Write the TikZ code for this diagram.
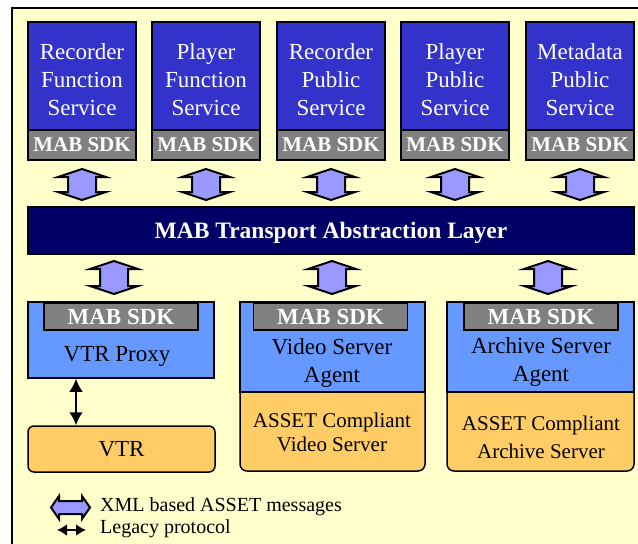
\documentclass[tikz,border=0pt]{standalone}
\usepackage{fontspec}
\setmainfont{Liberation Serif}
\usetikzlibrary{arrows.meta}
\definecolor{bgyellow}{HTML}{FFFFCC}
\definecolor{svcblue}{HTML}{3333CC}
\definecolor{sdkgray}{HTML}{808080}
\definecolor{navy}{HTML}{000066}
\definecolor{agentblue}{HTML}{6699FF}
\definecolor{devorange}{HTML}{FFCC66}
\definecolor{lav}{HTML}{9999FF}
\newcommand\fatv[3]{% x, top, bottom
  \draw[fatarrow] (#1,#2) -- (#1+24,#2+8) -- (#1+14,#2+8) -- (#1+14,#3-8) -- (#1+24,#3-8) -- (#1,#3) -- (#1-24,#3-8) -- (#1-14,#3-8) -- (#1-14,#2+8) -- (#1-24,#2+8) -- cycle;}
\tikzset{
  box/.style={draw=black, line width=1.5pt, inner sep=0pt, align=center},
  svc/.style={box, fill=svcblue, text=white, minimum width=108pt, minimum height=108pt, font=\fontsize{23}{28}\selectfont},
  sdk/.style={box, fill=sdkgray, text=white, minimum width=108pt, minimum height=30pt, font=\fontsize{21}{24}\selectfont\bfseries},
  tab/.style={box, fill=sdkgray, text=white, minimum width=154pt, minimum height=27pt, font=\fontsize{23}{26}\selectfont\bfseries},
  agent/.style={box, fill=agentblue, text=black, minimum width=186pt, font=\fontsize{23}{28}\selectfont},
  txt/.style={inner sep=0pt, align=center},
  fatarrow/.style={draw=black, line width=2pt, fill=lav, line join=miter},
  legacy/.style={line width=2.5pt, {Latex[length=13pt,width=14pt]}-{Latex[length=13pt,width=14pt]}},
}
\begin{document}
\begin{tikzpicture}[x=1pt,y=-1pt]
\useasboundingbox (0,0) rectangle (638,544);
\clip (0,0) rectangle (638,544);
\fill[white] (0,0) rectangle (638,544);
\draw[line width=2pt, fill=bgyellow] (12,8) rectangle (660,570);

% top services
\foreach \x/\name/\t in {82/s1/{Recorder\\Function\\Service},206/s2/{Player\\Function\\Service},331/s3/{Recorder\\Public\\Service},455/s4/{Player\\Public\\Service},580/s5/{Metadata\\Public\\Service}}{
  \node[svc] (\name) at (\x,76) {};
  \node[txt, text=white, font=\fontsize{23}{28}\selectfont] at (\x,80) {\t};
  \node[sdk] (\name k) at (\x,145) {MAB SDK};
  \fatv{\x}{169}{200}
}

% transport layer
\node[box, fill=navy, minimum width=606pt, minimum height=47pt] (tal) at (331,230.5) {};
\node[txt, text=white, font=\fontsize{23.5}{26}\selectfont\bfseries] at (331,233) {MAB Transport Abstraction Layer};

\fatv{114}{261}{294}
\fatv{332}{261}{294}
\fatv{548}{261}{294}

% VTR proxy
\node[agent, minimum height=76pt] (proxy) at (121,340) {};
\node[tab] (proxyk) at (121,316.5) {MAB SDK};
\node[txt, font=\fontsize{23}{28}\selectfont] at (117,356) {VTR Proxy};

% video server
\draw[line width=1.5pt, fill=devorange] (240,392) [rounded corners=7pt] -- (240,471) -- (425,471) [sharp corners] -- (425,392) -- cycle;
\node[agent, minimum width=185pt, minimum height=90pt] (vagent) at (332.5,347) {};
\node[tab] (vagentk) at (330.5,316.5) {MAB SDK};
\node[txt, font=\fontsize{23}{28}\selectfont] at (332,363) {Video Server\\Agent};
\node[txt, font=\fontsize{21}{24}\selectfont] (vsrv) at (332,432) {ASSET Compliant\\Video Server};

% archive server
\draw[line width=1.5pt, fill=devorange] (447,392) [rounded corners=7pt] -- (447,471) -- (634,471) [sharp corners] -- (634,392) -- cycle;
\node[agent, minimum width=187pt, minimum height=90pt] (aagent) at (540.5,347) {};
\node[tab] (aagentk) at (541,316.5) {MAB SDK};
\node[txt, font=\fontsize{23}{28}\selectfont] at (541,362) {Archive Server\\Agent};
\node[txt, font=\fontsize{21}{28}\selectfont] (asrv) at (541,437) {ASSET Compliant\\Archive Server};

% VTR
\node[box, fill=devorange, rounded corners=6pt, minimum width=187pt, minimum height=46pt, font=\fontsize{23}{28}\selectfont] (vtr) at (121.5,449) {VTR};
\coordinate (lx) at (76,0);
\draw[legacy] (lx |- proxy.south) -- (lx |- vtr.north);

% legend
\draw[fatarrow] (51,507.5) -- (59,496) -- (59,501) -- (82,501) -- (82,496) -- (90,507.5) -- (82,519) -- (82,514) -- (59,514) -- (59,519) -- cycle;
\node[txt, anchor=west, font=\fontsize{20}{24}\selectfont] (leg1) at (100,507) {XML based ASSET messages};
\coordinate (la) at (57,530);
\coordinate (lb) at (86,530);
\draw[line width=2.5pt, {Latex[length=10pt,width=12pt]}-{Latex[length=10pt,width=12pt]}] (la) -- (lb);
\node[txt, anchor=west, font=\fontsize{20}{24}\selectfont] (leg2) at (100,529) {Legacy protocol};
\end{tikzpicture}
\end{document}
